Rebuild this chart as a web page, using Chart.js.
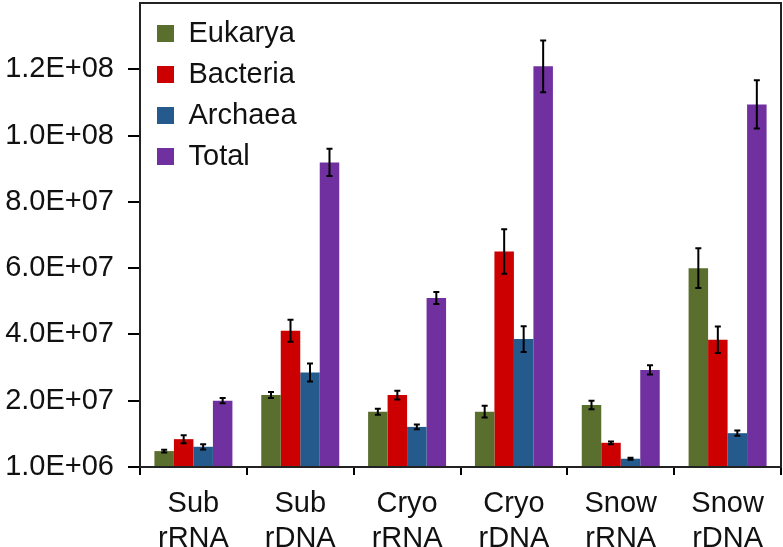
<!DOCTYPE html>
<html>
<head>
<meta charset="utf-8">
<script src="https://cdn.jsdelivr.net/npm/chart.js@4/dist/chart.umd.min.js"></script>
<style>
  html, body { margin: 0; padding: 0; background: #ffffff; }
  #wrap { width: 783px; height: 547px; position: relative; }
</style>
</head>
<body>
<div id="wrap"><canvas id="c" width="783" height="547"></canvas></div>
<script>
const categories = [["Sub", "rRNA"], ["Sub", "rDNA"], ["Cryo", "rRNA"], ["Cryo", "rDNA"], ["Snow", "rRNA"], ["Snow", "rDNA"]];
const seriesNames = ["Eukarya", "Bacteria", "Archaea", "Total"];
const eukarya     = [4.8e6, 2.17e7, 1.67e7, 1.67e7, 1.87e7, 6.0e7];
const eukaryaErr  = [0.4e6, 0.9e6, 0.9e6, 1.8e6, 1.3e6, 6.0e6];
const bacteria    = [8.4e6, 4.11e7, 2.17e7, 6.5e7, 7.3e6, 3.84e7];
const bacteriaErr = [1.2e6, 3.3e6, 1.3e6, 6.7e6, 0.4e6, 4.0e6];
const archaea     = [6.1e6, 2.85e7, 1.21e7, 3.86e7, 2.5e6, 1.02e7];
const archaeaErr  = [0.8e6, 2.7e6, 0.7e6, 3.9e6, 0.3e6, 0.8e6];
const total       = [2.0e7, 9.19e7, 5.1e7, 1.209e8, 2.93e7, 1.094e8];
const totalErr    = [0.8e6, 4.1e6, 1.8e6, 7.8e6, 1.4e6, 7.3e6];
const yTickLabels = ["1.0E+06", "2.0E+07", "4.0E+07", "6.0E+07", "8.0E+07", "1.0E+08", "1.2E+08"];

const colors = ["#5a6e2e", "#cc0000", "#245a8c", "#7030a0"];
const FONT = "'Liberation Sans', Arial, sans-serif";

const errorBars = {
  id: 'errorBars',
  afterDatasetsDraw(chart) {
    const ctx = chart.ctx;
    const y = chart.scales.y;
    ctx.save();
    ctx.strokeStyle = '#000';
    ctx.lineWidth = 2;
    chart.data.datasets.forEach((ds, i) => {
      const meta = chart.getDatasetMeta(i);
      meta.data.forEach((el, j) => {
        const v = ds.data[j], e = ds.errors[j];
        const yt = y.getPixelForValue(v + e);
        const yb = y.getPixelForValue(v - e);
        const x = el.x;
        ctx.beginPath();
        ctx.moveTo(x, yt); ctx.lineTo(x, yb);
        ctx.moveTo(x - 3, yt); ctx.lineTo(x + 3, yt);
        ctx.moveTo(x - 3, yb); ctx.lineTo(x + 3, yb);
        ctx.stroke();
      });
    });
    ctx.restore();
  }
};

const frame = {
  id: 'frame',
  afterDraw(chart) {
    const a = chart.chartArea, ctx = chart.ctx;
    ctx.save();
    ctx.strokeStyle = '#222';
    ctx.lineWidth = 2;
    ctx.strokeRect(a.left, a.top, a.right - a.left, a.bottom - a.top);
    ctx.restore();
  }
};

const legendShift = {
  id: 'legendShift',
  afterLayout(chart) {
    if (chart.legend) {
      chart.legend.left += 5;
      chart.legend.top += 7;
    }
  }
};

const errs = [eukaryaErr, bacteriaErr, archaeaErr, totalErr];
const vals = [eukarya, bacteria, archaea, total];

new Chart(document.getElementById('c'), {
  type: 'bar',
  data: {
    labels: categories,
    datasets: seriesNames.map((n, i) => ({
      label: n,
      data: vals[i],
      errors: errs[i],
      backgroundColor: colors[i],
      borderWidth: 0,
      categoryPercentage: 0.73,
      barPercentage: 1.0
    }))
  },
  options: {
    responsive: false,
    animation: false,
    devicePixelRatio: 1,
    layout: { padding: { left: 0, right: 2, top: 3, bottom: 0 } },
    plugins: {
      tooltip: { enabled: false },
      legend: {
        position: 'chartArea',
        align: 'start',
        labels: {
          boxWidth: 17,
          boxHeight: 17,
          padding: 12,
          color: '#111',
          font: { family: FONT, size: 29 }
        }
      }
    },
    scales: {
      x: {
        afterFit(s) { s.height = 80; s.paddingLeft = 0; s.paddingRight = 0; },
        grid: { display: true, drawOnChartArea: false, drawTicks: true, tickLength: 8, color: '#000', lineWidth: 2, offset: true },
        border: { display: true, color: '#000', width: 2 },
        ticks: { color: '#111', font: { family: FONT, size: 29, lineHeight: 1.22 }, padding: 11, maxRotation: 0, autoSkip: false }
      },
      y: {
        min: 0,
        max: 1.4e8,
        afterFit(s) { s.width = 140; s.paddingTop = 0; s.paddingBottom = 0; },
        afterBuildTicks(s) { s.ticks = s.ticks.filter(t => t.value <= 1.2e8 + 1); },
        grid: { display: true, drawOnChartArea: false, drawTicks: true, tickLength: 12, color: '#000', lineWidth: 2 },
        border: { display: true, color: '#000', width: 2 },
        ticks: {
          stepSize: 2e7,
          padding: 14,
          color: '#111',
          font: { family: FONT, size: 29 },
          callback: (v, i) => yTickLabels[i]
        }
      }
    }
  },
  plugins: [errorBars, frame, legendShift]
});
</script>
</body>
</html>
